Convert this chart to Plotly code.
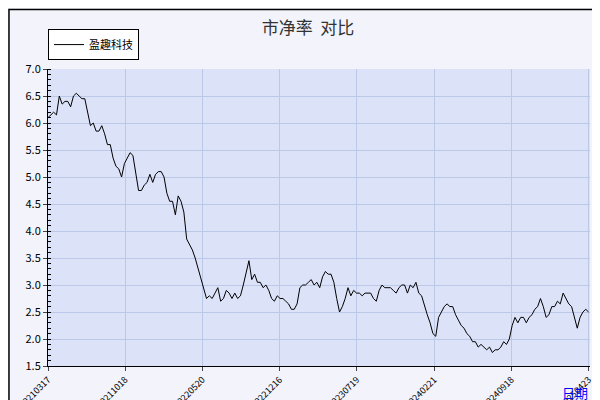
import plotly.graph_objects as go

# 市净率 values, roughly evenly spaced over trading days
pb = [6.1, 6.15, 6.2, 6.15, 6.5, 6.35, 6.4, 6.4, 6.3, 6.5, 6.55, 6.5, 6.45, 6.45,
      6.2, 5.95, 6.0, 5.85, 5.85, 5.95, 5.8, 5.6, 5.6, 5.35, 5.2, 5.15, 5.0, 5.25,
      5.35, 5.45, 5.4, 5.05, 4.75, 4.75, 4.85, 4.9, 5.05, 4.9, 5.05, 5.1, 5.1, 5.0,
      4.7, 4.55, 4.55, 4.3, 4.65, 4.55, 4.35, 3.85, 3.75, 3.65, 3.5, 3.3, 3.15, 2.9,
      2.75, 2.8, 2.75, 2.85, 2.95, 2.7, 2.75, 2.9, 2.85, 2.75, 2.85, 2.75, 2.8, 3.0,
      3.2, 3.45, 3.1, 3.2, 3.05, 3.05, 2.95, 3.0, 2.9, 2.75, 2.7, 2.8, 2.75, 2.75,
      2.7, 2.65, 2.55, 2.55, 2.65, 2.95, 3.0, 3.0, 3.05, 3.1, 3.0, 3.05, 2.95, 3.15,
      3.25, 3.2, 3.2, 3.05, 2.75, 2.5, 2.6, 2.75, 2.95, 2.8, 2.9, 2.85, 2.85, 2.8,
      2.85, 2.85, 2.85, 2.75, 2.7, 2.9, 3.0, 2.95, 2.95, 2.95, 2.9, 2.85, 2.95, 3.0,
      3.0, 2.85, 3.0, 2.95, 3.05, 2.85, 2.8, 2.6, 2.45, 2.3, 2.1, 2.05, 2.4, 2.5,
      2.6, 2.65, 2.6, 2.6, 2.45, 2.35, 2.25, 2.2, 2.1, 2.05, 1.95, 1.95, 1.85, 1.9,
      1.85, 1.8, 1.85, 1.75, 1.8, 1.8, 1.85, 1.95, 1.9, 2.0, 2.25, 2.4, 2.3, 2.4,
      2.4, 2.3, 2.4, 2.45, 2.55, 2.6, 2.75, 2.6, 2.4, 2.45, 2.6, 2.6, 2.7, 2.65,
      2.85, 2.75, 2.65, 2.6, 2.4, 2.2, 2.4, 2.5, 2.55, 2.5]
tick_labels = ['20210317', '20211018', '20220520', '20221216',
               '20230719', '20240221', '20240918', '20250423']

n = len(pb)
xs = list(range(n))
tick_pos = [i * (n - 1) / 7 for i in range(8)]

fig = go.Figure()
fig.add_trace(go.Scatter(x=xs, y=pb, mode='lines', name='盈趣科技',
                         line=dict(color='black', width=1)))

fig.update_layout(
    width=600, height=400,
    margin=dict(l=40, r=18, t=61, b=42, autoexpand=False),
    paper_bgcolor='#F2F3FB', plot_bgcolor='#DCE2F8',
    font=dict(family='Noto Sans CJK SC, DejaVu Sans', size=11, color='black'),
    title=dict(text='市净率  对比', x=0.5, y=0.965, xanchor='center',
               font=dict(size=17, color='#333333')),
    showlegend=True,
    legend=dict(x=0.0, y=1.03, xanchor='left', yanchor='bottom',
                bgcolor='white', bordercolor='black', borderwidth=1,
                font=dict(size=11), itemwidth=30, tracegroupgap=0),
    xaxis=dict(range=[0, n - 1 + 0.5], tickvals=tick_pos, ticktext=tick_labels,
               tickangle=-45, tickfont=dict(size=9), showgrid=True, automargin=False,
               gridcolor='#BCC8E8', zeroline=False, showline=True,
               linecolor='black', ticks='outside', ticklen=4),
    yaxis=dict(range=[1.5, 7.0], dtick=0.5, tickformat='.1f', showgrid=True,
               gridcolor='#BCC8E8', zeroline=False, showline=True, automargin=False,
               linecolor='black', ticks='outside', ticklen=4,
               minor=dict(dtick=0.1, ticks='inside', ticklen=3, tickcolor='black')),
    shapes=[dict(type='rect', xref='paper', yref='paper', x0=-0.072, x1=1.03,
                 y0=-0.135, y1=1.2, line=dict(color='black', width=1.5))],
    annotations=[dict(text='日期', xref='paper', yref='paper', x=1.0, y=-0.05,
                      xanchor='right', yanchor='top', showarrow=False,
                      font=dict(color='blue', size=13))],
)

fig.write_html('out.html')
